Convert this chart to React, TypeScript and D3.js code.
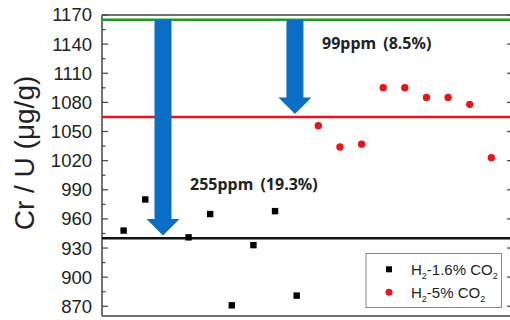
import React from 'react'
import * as d3 from 'd3'

// sample number (x index) and Cr/U values
const blackX = [1, 2, 4, 5, 6, 7, 8, 9]
const blackY = [948, 980, 941, 965, 871, 933, 968, 881]
const redX = [10, 11, 12, 13, 14, 15, 16, 17, 18]
const redY = [1056, 1034, 1037, 1095, 1095, 1085, 1085, 1078, 1023]

// reference levels
const levels = [
  {value: 1165, color: '#1f9a2a'},
  {value: 1065, color: '#e3161c'},
  {value: 940, color: '#111111'},
]

// arrows: x index, from value, to value
const arrows = [
  {x: 2.82, from: 1165, to: 943},
  {x: 8.92, from: 1165, to: 1068},
]

const yTicks = [870, 900, 930, 960, 990, 1020, 1050, 1080, 1110, 1140, 1170]

const layout = {width: 510, height: 320, left: 102, right: 513, top: 15, bottom: 316}

export default function App() {
  const x = d3.scaleLinear().domain([0, 19]).range([layout.left, layout.right])
  const y = d3.scaleLinear().domain([860, 1170]).range([layout.bottom, layout.top])

  const minor = d3.range(870, 1170, 30).map(d => d + 15)
  const font = 'Liberation Sans, Arial, sans-serif'

  const arrowPath = (a) => {
    const cx = x(a.x)
    const y0 = y(a.from)
    const y1 = y(a.to)
    const sw = 8.5, hw = 16.5, hl = 16.5
    return `M${cx - sw},${y0} L${cx + sw},${y0} L${cx + sw},${y1 - hl} L${cx + hw},${y1 - hl} L${cx},${y1} L${cx - hw},${y1 - hl} L${cx - sw},${y1 - hl} Z`
  }

  return (
    <svg width={layout.width} height={layout.height} style={{position: 'absolute', left: 0, top: 0}}>
      <rect width={layout.width} height={layout.height} fill="#fff" />

      {/* frame */}
      <g stroke="#444" strokeWidth={1.5} fill="none">
        <line x1={layout.left} x2={layout.right} y1={layout.top} y2={layout.top} />
        <line x1={layout.left} x2={layout.right} y1={layout.bottom} y2={layout.bottom} />
        <line x1={layout.left} x2={layout.left} y1={layout.top} y2={layout.bottom} />
        <line x1={layout.right} x2={layout.right} y1={layout.top} y2={layout.bottom} />
      </g>

      {/* ticks */}
      <g stroke="#444" strokeWidth={1.2}>
        {yTicks.map(t => (
          <g key={t}>
            <line x1={layout.left} x2={layout.left + 6} y1={y(t)} y2={y(t)} />
            <line x1={layout.right} x2={layout.right - 6} y1={y(t)} y2={y(t)} />
          </g>
        ))}
        {minor.map(t => (
          <line key={t} x1={layout.left} x2={layout.left + 3.5} y1={y(t)} y2={y(t)} />
        ))}
      </g>
      <g fontFamily={font} fontSize={18.5} fill="#222" textAnchor="end">
        {yTicks.map(t => (
          <text key={t} x={92} y={y(t)} dy="0.35em">{t}</text>
        ))}
      </g>

      {/* axis title */}
      <text transform="translate(33.5,153) rotate(-90)" textAnchor="middle" fontFamily={font} fontSize={28} fill="#222">
        Cr / U (μg/g)
      </text>

      {/* reference lines */}
      {levels.map(l => (
        <line key={l.value} x1={layout.left} x2={layout.right} y1={y(l.value)} y2={y(l.value)}
          stroke={l.color} strokeWidth={2.5} />
      ))}

      {/* arrows */}
      {arrows.map((a, i) => (
        <path key={i} d={arrowPath(a)} fill="#0a6ec4" />
      ))}

      {/* points */}
      {blackX.map((d, i) => (
        <rect key={i} x={x(d) - 3.2} y={y(blackY[i]) - 3.2} width={6.4} height={6.4} fill="#000" />
      ))}
      {redX.map((d, i) => (
        <circle key={i} cx={x(d)} cy={y(redY[i])} r={3.7} fill="#e8151b" />
      ))}

      {/* annotations */}
      <g fontFamily="Noto Sans, sans-serif" fontWeight="bold" fontSize={16} fill="#222" wordSpacing={3}>
        <text x={322} y={49}>99ppm (8.5%)</text>
        <text x={190} y={190}>255ppm (19.3%)</text>
      </g>

      {/* legend */}
      <rect x={366} y={253.5} width={135.5} height={54} fill="#fff" stroke="#888" strokeWidth={1} />
      <rect x={389 - 3} y={269.3 - 3} width={6} height={6} fill="#000" />
      <circle cx={389} cy={292.3} r={3.5} fill="#e8151b" />
      <g fontFamily={font} fontSize={15} fill="#222">
        <text x={411} y={274.8}>H<tspan fontSize={9} dy={4}>2</tspan><tspan dy={-4}>-1.6% CO</tspan><tspan fontSize={9} dy={4}>2</tspan></text>
        <text x={411} y={297.8}>H<tspan fontSize={9} dy={4}>2</tspan><tspan dy={-4}>-5% CO</tspan><tspan fontSize={9} dy={4}>2</tspan></text>
      </g>
    </svg>
  )
}
